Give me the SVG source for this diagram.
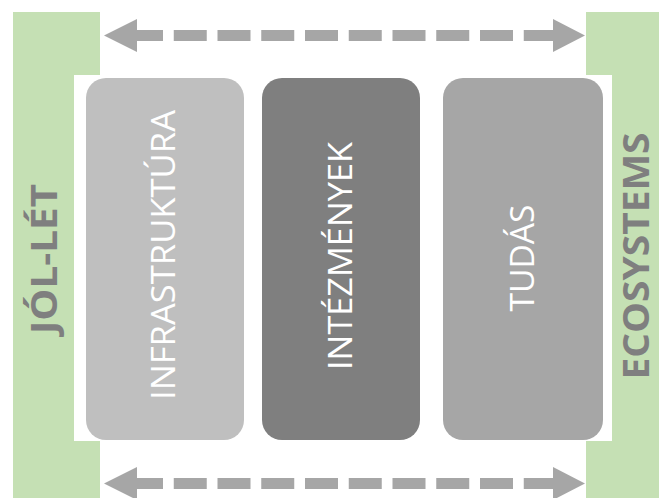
<svg xmlns="http://www.w3.org/2000/svg" width="659" height="498" viewBox="0 0 659 498">
  <style>
    .frame { fill: #c5e0b4; }
    .pillar-text { font-family: "Open Sans", "Liberation Sans", sans-serif; font-size: 32px; fill: #ffffff; text-anchor: middle; }
    .side-text { font-family: "Open Sans", "Liberation Sans", sans-serif; font-size: 35px; font-weight: bold; fill: #7f7f7f; text-anchor: middle; }
    .shaft { stroke: #a6a6a6; stroke-width: 11; fill: none; stroke-dasharray: 33 10.75; }
    .head { fill: #a6a6a6; }
  </style>
  <rect width="659" height="498" fill="#ffffff"/>

  <!-- side frames -->
  <g id="jol-let">
    <path class="frame" d="M13,12 H100 V75 H74 V441 H100 V498 H13 Z"/>
    <text class="side-text" transform="translate(44,259) rotate(-90)" x="0" y="12.5" textLength="150" lengthAdjust="spacingAndGlyphs">JÓL-LÉT</text>
  </g>
  <g id="ecosystems">
    <path class="frame" d="M586,12 H659 V498 H586 V441 H612 V75 H586 Z"/>
    <text class="side-text" transform="translate(636,256) rotate(-90)" x="0" y="12.5" textLength="247" lengthAdjust="spacingAndGlyphs">ECOSYSTEMS</text>
  </g>

  <!-- pillars -->
  <g id="infrastruktura">
    <rect x="86" y="78" width="158" height="362" rx="20" fill="#bfbfbf"/>
    <text class="pillar-text" transform="translate(164,255) rotate(-90)" x="0" y="11" textLength="290" lengthAdjust="spacingAndGlyphs">INFRASTRUKTÚRA</text>
  </g>
  <g id="intezmenyek">
    <rect x="262" y="78" width="158" height="362" rx="20" fill="#7f7f7f"/>
    <text class="pillar-text" transform="translate(341,256) rotate(-90)" x="0" y="11" textLength="228" lengthAdjust="spacingAndGlyphs">INTÉZMÉNYEK</text>
  </g>
  <g id="tudas">
    <rect x="443" y="78" width="160" height="362" rx="20" fill="#a6a6a6"/>
    <text class="pillar-text" transform="translate(523,258) rotate(-90)" x="0" y="11" textLength="107" lengthAdjust="spacingAndGlyphs">TUDÁS</text>
  </g>

  <!-- double-headed dashed connectors -->
  <g id="connectors">
    <path class="shaft" d="M130,35.5 H556"/>
    <path class="head" d="M104,35.5 L137,19 V52 Z"/>
    <path class="head" d="M585,35.5 L553,19 V52 Z"/>
    <path class="shaft" d="M130,483.5 H556"/>
    <path class="head" d="M104,483.5 L137,467 V500 Z"/>
    <path class="head" d="M585,483.5 L553,467 V500 Z"/>
  </g>
</svg>
